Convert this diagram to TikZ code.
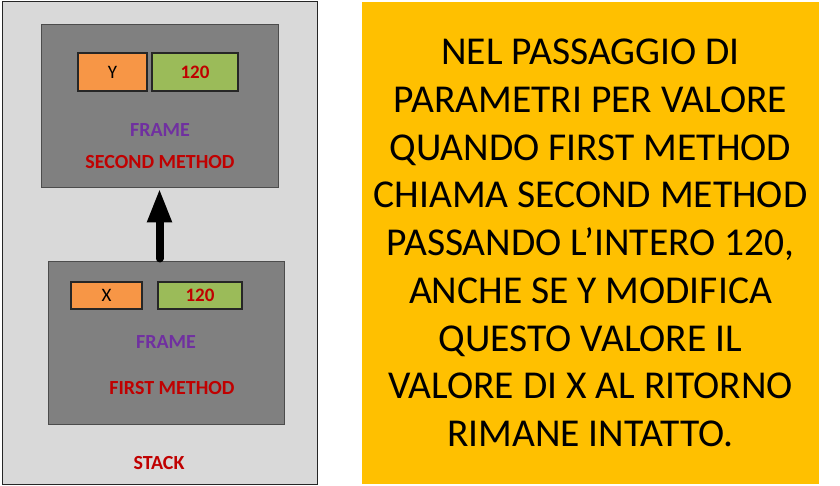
\documentclass[tikz,border=0pt]{standalone}
\usepackage{fontspec}
\setmainfont{Carlito}
\usetikzlibrary{arrows.meta}
\usetikzlibrary{positioning}

\definecolor{stackgray}{HTML}{D9D9D9}
\definecolor{framegray}{HTML}{808080}
\definecolor{varorange}{HTML}{F79646}
\definecolor{valgreen}{HTML}{9BBB59}
\definecolor{darkred}{HTML}{C00000}
\definecolor{framepurple}{HTML}{7030A0}
\definecolor{notegold}{HTML}{FFC000}

\begin{document}
\begin{tikzpicture}[x=1pt,y=-1pt,
    stackbox/.style={draw=black!85,fill=stackgray,line width=1pt,inner sep=0pt},
    framebox/.style={draw=black!70,fill=framegray,line width=1pt,inner sep=0pt},
    varbox/.style={draw=black!85,fill=varorange,line width=1.2pt,inner sep=0pt,
        font=\fontsize{19}{19}\selectfont},
    valbox/.style={draw=black!85,fill=valgreen,line width=1.2pt,inner sep=0pt,
        text=darkred,font=\fontsize{19}{19}\selectfont\bfseries},
    label/.style={inner sep=0pt,font=\fontsize{20}{20}\selectfont\bfseries},
    callarrow/.style={line width=8pt,line cap=round,-{Triangle[length=34pt,width=23pt]}}]

    % fix the page size
    \useasboundingbox (0,0) rectangle (840,486);

    % draw stack
    \node[stackbox,minimum width=315pt,minimum height=482pt] (stack) at (159.5,243) {};
    \node[label,text=darkred] (stacklbl) at (159,463.5) {STACK};

    % second method frame
    \node[framebox,minimum width=237pt,minimum height=163pt] (second) at (159.5,106.5) {};
    \node[varbox,minimum width=69pt,minimum height=38pt] (yvar) at (112.5,72) {Y};
    \node[valbox,minimum width=86pt,minimum height=38pt] (yval) at (195,72) {120};
    \node[label,text=framepurple] (secondframe) at (160,130.5) {FRAME};
    \node[label,text=darkred] (secondname) at (160,162.5) {SECOND METHOD};

    % first method frame
    \node[framebox,minimum width=236pt,minimum height=162pt] (first) at (166,343) {};
    \node[varbox,minimum width=71pt,minimum height=27pt] (xvar) at (106.5,295.5) {X};
    \node[valbox,minimum width=84pt,minimum height=27pt] (xval) at (200,295.5) {120};
    \node[label,text=framepurple] (firstframe) at (166,342.5) {FRAME};
    \node[label,text=darkred] (firstname) at (172,388) {FIRST METHOD};

    % call arrow
    \draw[callarrow] ([yshift=3pt]first.north -| second.south) -- (second.south);

    % note on the right
    \node[fill=notegold,minimum width=457pt,minimum height=482pt,inner sep=0pt,
        align=center,font=\fontsize{39.5}{47.75}\selectfont] (note) at (590.5,243)
        {NEL PASSAGGIO DI\\PARAMETRI PER VALORE\\QUANDO FIRST METHOD\\CHIAMA SECOND METHOD\\
         PASSANDO L’INTERO 120,\\ANCHE SE Y MODIFICA\\QUESTO VALORE IL\\
         VALORE DI X AL RITORNO\\RIMANE INTATTO.};

\end{tikzpicture}
\end{document}
